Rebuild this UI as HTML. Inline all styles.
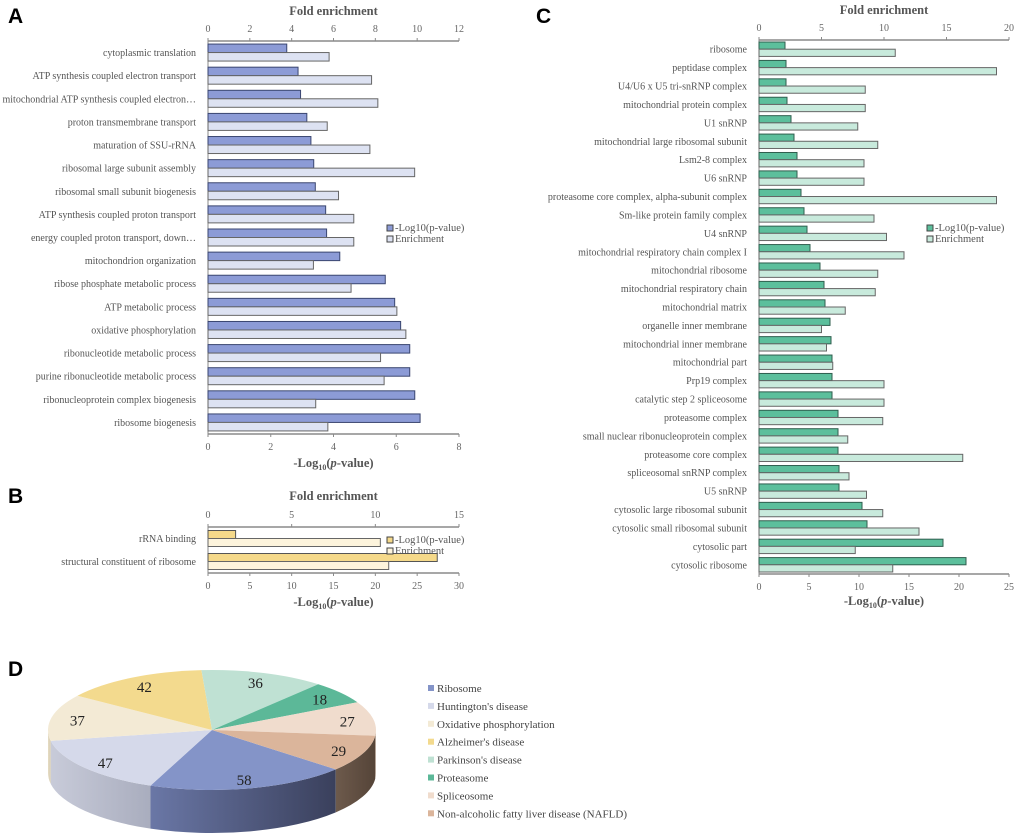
<!DOCTYPE html>
<html><head><meta charset="utf-8"><style>
html,body{margin:0;padding:0;background:#fff;}
svg{display:block;font-family:"Liberation Serif",serif;}
</style></head><body>
<svg id="fig" width="1020" height="838" viewBox="0 0 1020 838" xmlns="http://www.w3.org/2000/svg">
<text x="8" y="23" font-family="Liberation Sans,sans-serif" font-weight="bold" font-size="21">A</text>
<text x="8" y="503" font-family="Liberation Sans,sans-serif" font-weight="bold" font-size="21">B</text>
<text x="536" y="23" font-family="Liberation Sans,sans-serif" font-weight="bold" font-size="21">C</text>
<text x="8" y="676" font-family="Liberation Sans,sans-serif" font-weight="bold" font-size="21">D</text>
<g id="gA"></g>
<g id="gB"></g>
<g id="gC"></g>
<g id="gD"></g>
</svg>
<script>
// ---- Panel A data ----
const catsA = ["cytoplasmic translation","ATP synthesis coupled electron transport","mitochondrial ATP synthesis coupled electron\u2026","proton transmembrane transport","maturation of SSU-rRNA","ribosomal large subunit assembly","ribosomal small subunit biogenesis","ATP synthesis coupled proton transport","energy coupled proton transport, down\u2026","mitochondrion organization","ribose phosphate metabolic process","ATP metabolic process","oxidative phosphorylation","ribonucleotide metabolic process","purine ribonucleotide metabolic process","ribonucleoprotein complex biogenesis","ribosome biogenesis"];
const logA = [2.51,2.87,2.95,3.15,3.28,3.37,3.42,3.75,3.78,4.20,5.65,5.95,6.14,6.43,6.43,6.59,6.76];
const enrA = [5.79,7.82,8.12,5.70,7.74,9.88,6.24,6.97,6.97,5.04,6.84,9.03,9.46,8.25,8.42,5.15,5.73];
const topTicksA = [0,2,4,6,8,10,12];
const botTicksA = [0,2,4,6,8];
// ---- Panel B data ----
const catsB = ["rRNA binding","structural constituent of ribosome"];
const logB = [3.3,27.4];
const enrB = [10.3,10.8];
const topTicksB = [0,5,10,15];
const botTicksB = [0,5,10,15,20,25,30];
// ---- Panel C data ----
const catsC = ["ribosome","peptidase complex","U4/U6 x U5 tri-snRNP complex","mitochondrial protein complex","U1 snRNP","mitochondrial large ribosomal subunit","Lsm2-8 complex","U6 snRNP","proteasome core complex, alpha-subunit complex","Sm-like protein family complex","U4 snRNP","mitochondrial respiratory chain complex I","mitochondrial ribosome","mitochondrial respiratory chain","mitochondrial matrix","organelle inner membrane","mitochondrial inner membrane","mitochondrial part","Prp19 complex","catalytic step 2 spliceosome","proteasome complex","small nuclear ribonucleoprotein complex","proteasome core complex","spliceosomal snRNP complex","U5 snRNP","cytosolic large ribosomal subunit","cytosolic small ribosomal subunit","cytosolic part","cytosolic ribosome"];
const logC = [2.6,2.7,2.7,2.8,3.2,3.5,3.8,3.8,4.2,4.5,4.8,5.1,6.1,6.5,6.6,7.1,7.2,7.3,7.3,7.3,7.9,7.9,7.9,8.0,8.0,10.3,10.8,18.4,20.7];
const enrC = [10.9,19.0,8.5,8.5,7.9,9.5,8.4,8.4,19.0,9.2,10.2,11.6,9.5,9.3,6.9,5.0,5.4,5.9,10.0,10.0,9.9,7.1,16.3,7.2,8.6,9.9,12.8,7.7,10.7];
const topTicksC = [0,5,10,15,20];
const botTicksC = [0,5,10,15,20,25];
// ---- Panel D data ----
const pieLabels = ["Ribosome","Huntington's disease","Oxidative phosphorylation","Alzheimer's disease","Parkinson's disease","Proteasome","Spliceosome","Non-alcoholic fatty liver disease (NAFLD)"];
const pieValues = [58,47,37,42,36,18,27,29];

const NS="http://www.w3.org/2000/svg";
function mk(parent,tag,attrs){const e=document.createElementNS(NS,tag);for(const k in attrs)e.setAttribute(k,attrs[k]);parent.appendChild(e);return e;}
function txt(parent,x,y,s,attrs){const e=mk(parent,'text',Object.assign({x:x,y:y},attrs||{}));e.textContent=s;return e;}

function hbar(g,o,cats,logV,enrV,topT,botT){
  const x0=o.x0,x1=o.x1,yT=o.yT,yB=o.yB;
  const topMax=topT[topT.length-1], botMax=botT[botT.length-1];
  const xTop=v=>x0+(x1-x0)*v/topMax, xBot=v=>x0+(x1-x0)*v/botMax;
  const band=(yB-yT)/cats.length;
  let a=mk(g,'line',{x1:x0,y1:yT,x2:x1,y2:yT,stroke:'#8a8a8a','stroke-width':1.5});
  
  
  a=mk(g,'line',{x1:x0,y1:yB,x2:x1,y2:yB,stroke:'#8a8a8a','stroke-width':1.5});
  
  
  a=mk(g,'line',{x1:x0,y1:yT,x2:x0,y2:yB,stroke:'#8a8a8a','stroke-width':1});
  
  
  topT.forEach(t=>{const x=xTop(t);mk(g,'line',{x1:x,y1:yT-3,x2:x,y2:yT,stroke:'#8a8a8a'});
    const e=txt(g,x,yT-9,String(t),{'font-size':10,fill:'#666','text-anchor':'middle'});
    
    });
  botT.forEach(t=>{const x=xBot(t);mk(g,'line',{x1:x,y1:yB,x2:x,y2:yB+3,stroke:'#8a8a8a'});
    const e=txt(g,x,yB+16,String(t),{'font-size':10,fill:'#666','text-anchor':'middle'});
    
    });
  let t=txt(g,(x0+x1)/2,o.titleY,'Fold enrichment',{'font-size':12.5,'font-weight':'bold',fill:'#555','text-anchor':'middle'});
  
  
  t=mk(g,'text',{x:(x0+x1)/2,y:o.botTitleY,'font-size':12.5,'font-weight':'bold',fill:'#555','text-anchor':'middle'});
  t.innerHTML='-Log<tspan font-size="8" dy="3">10</tspan><tspan dy="-3">(</tspan><tspan font-style="italic">p</tspan>-value)';
  
  
  cats.forEach((c,i)=>{
    const cy=yT+(i+0.5)*band;
    const l=txt(g,o.labelX,cy+3.5,c,{'font-size':o.fs,fill:'#555','text-anchor':'end'});
    
    
    const b1=mk(g,'rect',{x:x0,y:cy-o.bh,width:xBot(logV[i])-x0,height:o.bh,fill:o.c1,stroke:o.s1,'stroke-width':1});
    
    
    const b2=mk(g,'rect',{x:x0,y:cy,width:xTop(enrV[i])-x0,height:o.bh,fill:o.c2,stroke:'#666','stroke-width':1});
    
    
  });
  const lg=mk(g,'g',{});
  
  
  let r=mk(lg,'rect',{x:o.lx,y:o.ly-6,width:6,height:6,fill:o.c1,stroke:'#444'});
  
  
  let e=txt(lg,o.lx+8,o.ly,'-Log10(p-value)',{'font-size':10.5,fill:'#555'});
  
  
  r=mk(lg,'rect',{x:o.lx,y:o.ly+5,width:6,height:6,fill:o.c2,stroke:'#444'});
  
  
  e=txt(lg,o.lx+8,o.ly+11,'Enrichment',{'font-size':10.5,fill:'#555'});
  
  
}
hbar(document.getElementById('gA'),{x0:208,x1:459,yT:41,yB:434,labelX:196,fs:10,bh:8.5,c1:'#8c9bd6',s1:'#3a4670',c2:'#dde2f2',lx:387,ly:231,titleY:15,botTitleY:467},catsA,logA,enrA,topTicksA,botTicksA);
hbar(document.getElementById('gB'),{x0:208,x1:459,yT:527,yB:573,labelX:196,fs:10,bh:8,c1:'#f5d98a',s1:'#555',c2:'#fdf4dc',lx:387,ly:543,titleY:500,botTitleY:606},catsB,logB,enrB,topTicksB,botTicksB);
hbar(document.getElementById('gC'),{x0:759,x1:1009,yT:40,yB:574,labelX:747,fs:10,bh:7.2,c1:'#5cbf9c',s1:'#2f5e4e',c2:'#c8eadc',lx:927,ly:231,titleY:14,botTitleY:605},catsC,logC,enrC,topTicksC,botTicksC);

// ---- Pie ----
(function(){
  const g=document.getElementById('gD');
  const cx=212,cy=730,rx=164,ry=60,depth=43;
  const top=['#8494c8','#d5d9ea','#f3ead5','#f3da8e','#bfe1d3','#5cb898','#f0dccd','#dbb59b'];
  const side=[['#6a77a6','#3a405c'],['#c8cbd9','#a9adbe'],['#e6dcc3','#d8ceb5'],['#e0c77a','#c9b16a'],['#a6c9bb','#8fb3a5'],['#4a9a7e','#3d8068'],['#d8c4b4','#c0ad9e'],['#6d5a4c','#554438']];
  const defs=mk(g,'defs',{});
  side.forEach((s,i)=>{const lgr=mk(defs,'linearGradient',{id:'sg'+i,x1:0,y1:0,x2:1,y2:0});
    mk(lgr,'stop',{offset:0,'stop-color':s[0]});mk(lgr,'stop',{offset:1,'stop-color':s[1]});});
  const total=pieValues.reduce((a,b)=>a+b,0);
  const start=41*Math.PI/180;
  const P=(t,dy)=>[cx+rx*Math.cos(t),cy+ry*Math.sin(t)+(dy||0)];
  let angs=[];let a=start;
  pieValues.forEach(v=>{const b=a+v/total*2*Math.PI;angs.push([a,b]);a=b;});
  angs.forEach(([a1,a2],i)=>{
    for(let k=0;k<2;k++){
      let lo=Math.max(a1,k*2*Math.PI), hi=Math.min(a2,k*2*Math.PI+Math.PI);
      if(hi<=lo)continue;
      const p1=P(lo),p2=P(hi),p3=P(hi,depth),p4=P(lo,depth);
      const s=mk(g,'path',{d:`M${p1} A${rx},${ry} 0 0 1 ${p2} L${p3} A${rx},${ry} 0 0 0 ${p4} Z`,fill:'url(#sg'+i+')'});
      
      
    }
  });
  angs.forEach(([a1,a2],i)=>{
    const p1=P(a1),p2=P(a2);const large=(a2-a1)>Math.PI?1:0;
    const s=mk(g,'path',{d:`M${cx},${cy} L${p1} A${rx},${ry} 0 ${large} 1 ${p2} Z`,fill:top[i]});
    
    
  });
  angs.forEach(([a1,a2],i)=>{
    const m=(a1+a2)/2;const lp=[cx+rx*0.84*Math.cos(m),cy+ry*0.84*Math.sin(m)];
    const l=txt(g,lp[0],lp[1]+6,String(pieValues[i]),{'font-size':15,fill:'#222','text-anchor':'middle'});
    
    
  });
  const lg=mk(g,'g',{});
  
  
  pieLabels.forEach((n,i)=>{
    const y=692+i*17.9;
    const r=mk(lg,'rect',{x:428,y:y-7,width:6,height:6,fill:top[i]});
    
    
    const t=txt(lg,437,y,n,{'font-size':11,fill:'#444'});
    
    
  });
})();
</script>
</body></html>
